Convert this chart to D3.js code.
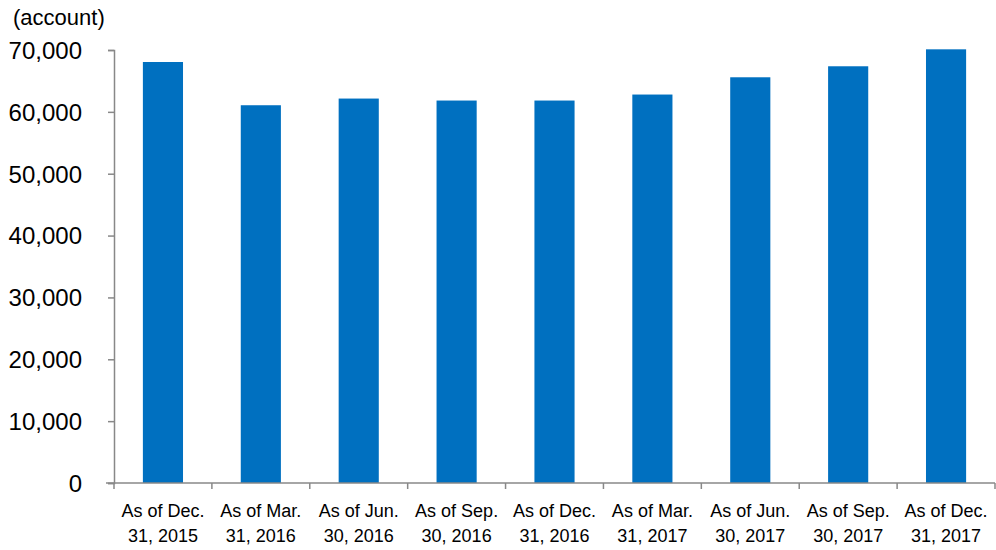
<!DOCTYPE html>
<html>
<head>
<meta charset="utf-8">
<script src="https://cdn.jsdelivr.net/npm/d3@7"></script>
<style>
  body { margin: 0; background: #fff; }
  svg text { font-family: "Liberation Sans", Arial, sans-serif; fill: #000; }
</style>
</head>
<body>
<div id="chart"></div>
<script>
// Accounts at each quarter end
const categories = [
  ["As of Dec.", "31, 2015"],
  ["As of Mar.", "31, 2016"],
  ["As of Jun.", "30, 2016"],
  ["As of Sep.", "30, 2016"],
  ["As of Dec.", "31, 2016"],
  ["As of Mar.", "31, 2017"],
  ["As of Jun.", "30, 2017"],
  ["As of Sep.", "30, 2017"],
  ["As of Dec.", "31, 2017"]
];
const accounts = [68060, 61070, 62150, 61830, 61830, 62800, 65590, 67370, 70110];
const yTicks = [0, 10000, 20000, 30000, 40000, 50000, 60000, 70000];

const width = 996, height = 550;
const margin = { top: 50, right: 1, bottom: 67, left: 114 };

const svg = d3.select("#chart").append("svg")
  .attr("width", width)
  .attr("height", height);

const x = d3.scaleBand()
  .domain(d3.range(categories.length))
  .range([margin.left, width - margin.right])
  .paddingInner(0.59)
  .paddingOuter(0.295);

const y = d3.scaleLinear()
  .domain([0, 70000])
  .range([height - margin.bottom, margin.top]);

// bars
svg.append("g").selectAll("rect")
  .data(accounts)
  .join("rect")
  .attr("x", (d, i) => x(i))
  .attr("y", d => y(d))
  .attr("width", x.bandwidth())
  .attr("height", d => y(0) - y(d))
  .attr("fill", "#0070c0");

// y axis
const yAxis = svg.append("g")
  .attr("transform", `translate(${margin.left},0)`)
  .call(d3.axisLeft(y).tickValues(yTicks).tickSize(6).tickPadding(26)
    .tickFormat(d3.format(",")));
yAxis.select(".domain").attr("stroke", "#888").attr("stroke-width", 1.5);
yAxis.selectAll(".tick line").attr("stroke", "#888").attr("stroke-width", 1.5);
yAxis.selectAll(".tick text").attr("font-size", 24).attr("dy", "0.35em");

// x axis, ticks sit on the category boundaries
const plotW = width - margin.right - margin.left;
const xAxis = svg.append("g")
  .attr("transform", `translate(0,${y(0)})`);
xAxis.append("line")
  .attr("x1", margin.left - 8).attr("x2", width - margin.right)
  .attr("stroke", "#888").attr("stroke-width", 1.5);
xAxis.selectAll(".xt")
  .data(d3.range(categories.length + 1))
  .join("line")
  .attr("x1", i => margin.left + i * plotW / categories.length)
  .attr("x2", i => margin.left + i * plotW / categories.length)
  .attr("y1", 0).attr("y2", 6)
  .attr("stroke", "#888").attr("stroke-width", 1.5);

const labels = xAxis.selectAll(".xl")
  .data(categories)
  .join("text")
  .attr("text-anchor", "middle")
  .attr("font-size", 18)
  .attr("transform", (d, i) => `translate(${x(i) + x.bandwidth() / 2},0)`);
labels.append("tspan").attr("x", 0).attr("y", 34).text(d => d[0]);
labels.append("tspan").attr("x", 0).attr("y", 59).text(d => d[1]);

// unit label
svg.append("text")
  .attr("x", 13)
  .attr("y", 25)
  .attr("font-size", 22)
  .text("(account)");
</script>
</body>
</html>
